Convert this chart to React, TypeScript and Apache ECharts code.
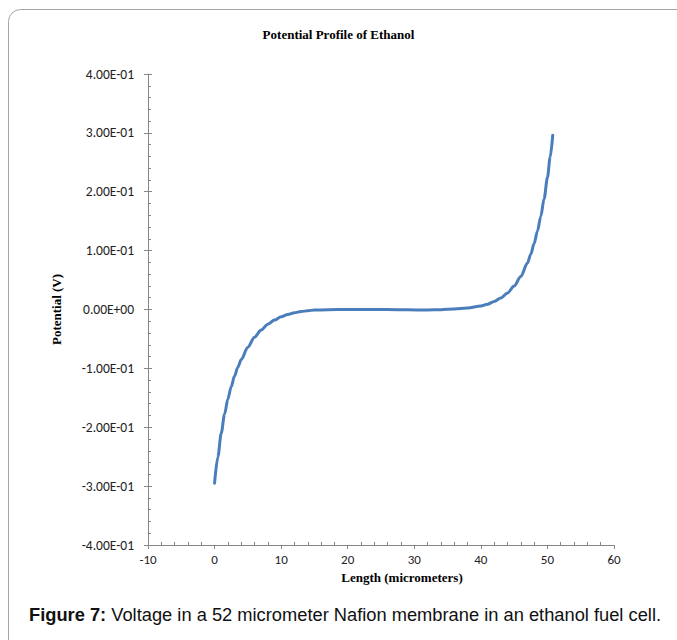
import React, { useEffect, useRef } from "react";
import * as echarts from "echarts";

const chartTitle = "Potential Profile of Ethanol";
const xAxisTitle = "Length (micrometers)";
const yAxisTitle = "Potential (V)";
const captionBold = "Figure 7:";
const captionRest = " Voltage in a 52 micrometer Nafion membrane in an ethanol fuel cell.";

const lengthUm = [
  0, 0.5, 1, 1.5, 2, 2.5, 3, 3.5, 4, 5, 6, 7, 8, 9, 10, 11, 12, 13, 14, 15, 17, 20,
  23, 26, 29, 32, 34, 36, 38, 40, 41, 42, 43, 44, 45, 46, 47, 47.5, 48, 48.5, 49,
  49.5, 50, 50.4, 50.8,
];
const potentialV = [
  -0.295, -0.25, -0.21, -0.178, -0.152, -0.131, -0.113, -0.098, -0.085, -0.064,
  -0.047, -0.035, -0.025, -0.018, -0.0125, -0.0085, -0.0055, -0.0035, -0.002, -0.001,
  -0.0004, 0.0, 0.0, 0.0, -0.0005, -0.0008, -0.0003, 0.001, 0.0025, 0.006, 0.009,
  0.0135, 0.0195, 0.028, 0.04, 0.056, 0.079, 0.094, 0.112, 0.133, 0.158, 0.188, 0.224,
  0.258, 0.296,
];

const xMin = -10, xMax = 60, xStep = 10;
const yMin = -0.4, yMax = 0.4, yStep = 0.1;

function sci(v: number): string {
  if (Math.abs(v) < 1e-12) v = 0;
  const [m, e] = v.toExponential(2).split("e");
  const sign = e[0] === "-" ? "-" : "+";
  const digits = e.replace(/[+-]/, "").padStart(2, "0");
  return `${m}E${sign}${digits}`;
}

export default function App() {
  const ref = useRef<HTMLDivElement>(null);
  useEffect(() => {
    if (!ref.current) return;
    const chart = echarts.init(ref.current, undefined, { renderer: "svg" });
    const axisColor = "#868686";
    const labelFont = "Carlito, Lato, 'Open Sans', sans-serif";
    const serif = "'Liberation Serif', 'Times New Roman', serif";
    const data = lengthUm.map((x, i) => [x, potentialV[i]]);
    chart.setOption({
      animation: false,
      backgroundColor: "#ffffff",
      title: {
        text: chartTitle,
        left: "center",
        top: 23,
        textStyle: { fontFamily: serif, fontWeight: "bold", fontSize: 13, color: "#000" },
      },
      grid: { left: 148, right: 63, top: 74, bottom: 95, containLabel: false },
      xAxis: {
        type: "value",
        min: xMin,
        max: xMax,
        interval: xStep,
        axisLine: { onZero: false, lineStyle: { color: axisColor, width: 1 } },
        axisTick: { show: true, inside: false, length: 4, lineStyle: { color: axisColor } },
        minorTick: { show: true, splitNumber: 5, length: -3, lineStyle: { color: axisColor } },
        splitLine: { show: false },
        axisLabel: { fontFamily: labelFont, fontSize: 13, color: "#222", margin: 8 },
      },
      yAxis: [
        {
          type: "value",
          min: yMin,
          max: yMax,
          interval: yStep,
          name: yAxisTitle,
          nameLocation: "middle",
          nameGap: 85,
          nameRotate: 90,
          nameTextStyle: { fontFamily: serif, fontWeight: "bold", fontSize: 13, color: "#000" },
          axisLine: { onZero: false, lineStyle: { color: axisColor, width: 1 } },
          axisTick: { show: true, inside: false, length: 4, lineStyle: { color: axisColor } },
          minorTick: { show: true, splitNumber: 5, length: -3, lineStyle: { color: axisColor } },
          splitLine: { show: false },
          axisLabel: {
            fontFamily: labelFont,
            fontSize: 13.5,
            color: "#222",
            margin: 14,
            formatter: (v: number) => sci(v),
          },
        },
        {
          type: "value",
          position: "left",
          min: yMin,
          max: yMax,
          interval: yStep,
          axisLine: { show: false, onZero: false },
          axisTick: { show: true, inside: true, length: 4, lineStyle: { color: axisColor } },
          axisLabel: { show: false },
          splitLine: { show: false },
        },
      ],
      graphic: [
        {
          type: "rect",
          shape: { x: 8.5, y: 9.5, width: 720, height: 700, r: 12 },
          style: { fill: "none", stroke: "#a6a6a6", lineWidth: 1 },
          silent: true,
          z: -10,
        },
        {
          type: "text",
          x: 402,
          y: 577,
          style: {
            text: xAxisTitle,
            fontFamily: serif,
            fontWeight: "bold",
            fontSize: 13,
            fill: "#000",
            align: "center",
            verticalAlign: "middle",
          },
        },
        {
          type: "text",
          x: 29,
          y: 614,
          style: {
            text: `{b|${captionBold}}{r|${captionRest}}`,
            verticalAlign: "middle",
            rich: {
              b: { fontFamily: "'Liberation Sans', Arial, sans-serif", fontWeight: "bold", fontSize: 18.3, fill: "#111" },
              r: { fontFamily: "'Liberation Sans', Arial, sans-serif", fontSize: 18.3, fill: "#111" },
            },
          },
        },
      ],
      series: [
        {
          type: "line",
          data,
          showSymbol: false,
          smooth: 0.3,
          smoothMonotone: "x",
          lineStyle: { color: "#4a7ebb", width: 3, cap: "round" },
          itemStyle: { color: "#4a7ebb" },
        },
      ],
    });
    return () => chart.dispose();
  }, []);
  return (
    <div
      ref={ref}
      style={{ position: "fixed", left: 0, top: 0, width: 677, height: 640, background: "#fff" }}
    />
  );
}
